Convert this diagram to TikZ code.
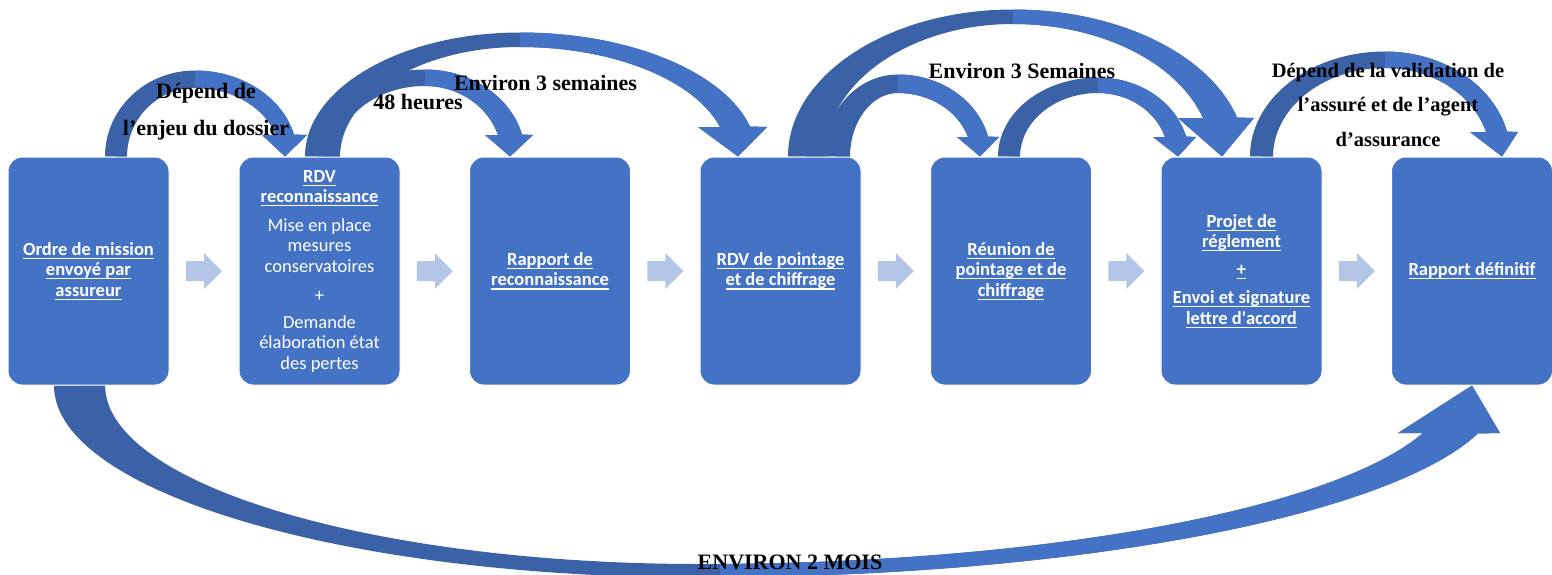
\documentclass[tikz,border=0pt]{standalone}
\usepackage{fontspec}
\setmainfont{Liberation Serif}
\newfontfamily\boxfont{Carlito}
\usetikzlibrary{calc,backgrounds}
\definecolor{boxblue}{HTML}{4472C4}
\definecolor{backblue}{HTML}{3B62A6}
\definecolor{gapblue}{HTML}{B4C6E7}
% bold text with an underline in the current colour
\newcommand{\ubf}[1]{\textbf{\setbox0=\hbox{#1}\rlap{\vrule width\wd0 height -2.6pt depth 3.8pt}\box0}}
% fill a saved band: darker back half, lighter front half right of x = #2
\newcommand{\twotone}[2]{%
  \fill[backblue, use path=#1];
  \begin{scope}
    \clip (#2,10) rectangle (1600,-600);
    \fill[boxblue, use path=#1];
  \end{scope}}

\begin{document}
\begin{tikzpicture}[x=1pt, y=1pt,
  stepbox/.style={draw=white, line width=1pt, fill=boxblue, rounded corners=14pt,
    minimum width=161pt, minimum height=228pt, inner sep=2pt, text=white,
    align=center, font=\boxfont\fontsize{18.5}{20.5}\selectfont},
  lbl/.style={font=\bfseries\fontsize{22}{37}\selectfont, align=center,
    text=black, inner sep=0pt},
  gaparrow/.pic={\fill[gapblue] (-18,-10) -- (0,-10) -- (0,-18) -- (18,0)
    -- (0,18) -- (0,10) -- (-18,10) -- cycle;}]
\useasboundingbox (0,0) rectangle (1552,-574);

% process steps
\node[stepbox] (b1) at (88.5,-271) {\ubf{Ordre de mission}\\ \ubf{envoyé par}\\ \ubf{assureur}};
\node[stepbox] (b2) at (319.5,-271) {\ubf{RDV}\\ \ubf{reconnaissance}\\[8pt]
  Mise en place\\ mesures\\ conservatoires\\[9pt] +\\[6pt] Demande\\ élaboration état\\ des pertes};
\node[stepbox] (b3) at (550,-271) {\ubf{Rapport de}\\ \ubf{reconnaissance}};
\node[stepbox] (b4) at (780.5,-271) {\ubf{RDV de pointage}\\ \ubf{et de chiffrage}};
\node[stepbox] (b5) at (1011,-271) {\ubf{Réunion de}\\ \ubf{pointage et de}\\ \ubf{chiffrage}};
\node[stepbox] (b6) at (1241.5,-271) {\ubf{Projet de}\\ \ubf{réglement}\\[7pt] \ubf{+}\\[8pt]
  \ubf{Envoi et signature}\\ \ubf{lettre d\textquotesingle accord}};
\node[stepbox] (b7) at (1472,-271) {\ubf{Rapport définitif}};

% small arrows between consecutive steps
\foreach \a/\b in {b1/b2,b2/b3,b3/b4,b4/b5,b5/b6,b6/b7}
  \pic at ($(\a.east)!0.5!(\b.west)$) {gaparrow};

% tails and tips of the curved arrows
\coordinate (t1) at ([xshift=16.5pt]b1.north);   \coordinate (h1) at ([xshift=-34.5pt]b2.north);
\coordinate (t2) at ([xshift=-14.5pt]b2.north);  \coordinate (h2) at ([xshift=-42.5pt]b4.north);
\coordinate (t3) at ([xshift=-1.5pt]b2.north);   \coordinate (h3) at ([xshift=-40pt]b3.north);
\coordinate (t4) at ([xshift=7.5pt]b4.north);    \coordinate (h4) at ([xshift=-19.5pt]b6.north);
\coordinate (t5) at ([xshift=43.5pt]b4.north);   \coordinate (h5) at ([xshift=-31pt]b5.north);
\coordinate (t6) at ([xshift=-13pt]b5.north);    \coordinate (h6) at ([xshift=-63.5pt]b6.north);
\coordinate (t7) at ([xshift=8.5pt]b6.north);    \coordinate (h7) at ([xshift=30pt]b7.north);
\coordinate (t8) at ([xshift=-34.5pt]b1.south);  \coordinate (h8) at (b7.south);

\begin{scope}[on background layer]
\clip (0,0) rectangle (1552,-574);
% 48 heures
\path[save path=\bandC] (t3)
  arc[start angle=180, end angle=90, x radius=107, y radius=87]
  arc[start angle=90, end angle={asin(22/87)}, x radius={97/cos(asin(22/87))}, y radius=87]
  -- (533,-135) -- (h3) -- (485,-135) -- (498,-135)
  arc[start angle={asin(22/71)}, end angle=90, x radius={73/cos(asin(22/71))}, y radius=71]
  arc[start angle=90, end angle=180, x radius=89, y radius=71] -- cycle;
\twotone{\bandC}{425}
% depend de l'enjeu du dossier
\path[save path=\bandA] (t1)
  arc[start angle=180, end angle=90, x radius=90, y radius=86]
  arc[start angle=90, end angle={asin(22/86)}, x radius={99/cos(asin(22/86))}, y radius=86]
  -- (307,-135) -- (h1) -- (262,-135) -- (276,-135)
  arc[start angle={asin(22/69)}, end angle=90, x radius={81/cos(asin(22/69))}, y radius=69]
  arc[start angle=90, end angle=180, x radius=68, y radius=69] -- cycle;
\twotone{\bandA}{195}
% environ 3 semaines
\path[save path=\bandB] (t2)
  arc[start angle=180, end angle=90, x radius=215, y radius=124]
  arc[start angle=90, end angle={asin(30/124)}, x radius={230/cos(asin(30/124))}, y radius=124]
  -- (767,-127) -- (h2) -- (698,-127) -- (720,-127)
  arc[start angle={asin(30/110)}, end angle=90, x radius={200/cos(asin(30/110))}, y radius=110]
  arc[start angle=90, end angle=180, x radius=180, y radius=110] -- cycle;
\twotone{\bandB}{520}
% pointage -> reunion
\path[save path=\bandE] (t5)
  arc[start angle=180, end angle=90, x radius=74, y radius=82]
  arc[start angle=90, end angle={asin(20/82)}, x radius={90/cos(asin(20/82))}, y radius=82]
  -- (999,-137) -- (h5) -- (957,-137) -- (968,-137)
  arc[start angle={asin(20/64)}, end angle=90, x radius={70/cos(asin(20/64))}, y radius=64]
  arc[start angle=90, end angle=180, x radius=48, y radius=64] -- cycle;
\twotone{\bandE}{898}
% reunion -> projet
\path[save path=\bandF] (t6)
  arc[start angle=180, end angle=90, x radius=100, y radius=79]
  arc[start angle=90, end angle={asin(20/79)}, x radius={88/cos(asin(20/79))}, y radius=79]
  -- (1196,-137) -- (h6) -- (1153,-137) -- (1165,-137)
  arc[start angle={asin(20/64)}, end angle=90, x radius={67/cos(asin(20/64))}, y radius=64]
  arc[start angle=90, end angle=180, x radius=78, y radius=64] -- cycle;
\twotone{\bandF}{1098}
% environ 3 semaines (pointage -> projet)
\path[save path=\bandD] (t4)
  arc[start angle=180, end angle=90, x radius=225, y radius=147]
  arc[start angle=90, end angle={asin(39/147)}, x radius={224/cos(asin(39/147))}, y radius=147]
  -- (1254,-118) -- (h4) -- (1178,-118) -- (1203,-118)
  arc[start angle={asin(39/133)}, end angle=90, x radius={190/cos(asin(39/133))}, y radius=133]
  arc[start angle=90, end angle=180, x radius=188, y radius=133] -- cycle;
\twotone{\bandD}{1013}
% validation -> rapport definitif
\path[save path=\bandG] (t7)
  arc[start angle=180, end angle=90, x radius=135, y radius=105]
  arc[start angle=90, end angle={asin(25/105)}, x radius={122/cos(asin(25/105))}, y radius=105]
  -- (1518,-132) -- (h7) -- (1470,-132) -- (1486,-132)
  arc[start angle={asin(25/89)}, end angle=90, x radius={101/cos(asin(25/89))}, y radius=89]
  arc[start angle=90, end angle=180, x radius=112, y radius=89] -- cycle;
\twotone{\bandG}{1385}
% environ 2 mois, underneath
\path[save path=\bandH] (t8)
  arc[start angle=180, end angle=270, x radius=646, y radius=192]
  arc[start angle=270, end angle={360-asin(48/192)}, x radius={778/cos(asin(48/192))}, y radius=192]
  -- (1500,-433) -- (h8) -- (1398,-433) -- (1423,-433)
  arc[start angle={360-asin(48/179)}, end angle=270, x radius={723/cos(asin(48/179))}, y radius=179]
  arc[start angle=270, end angle=180, x radius=595, y radius=179] -- cycle;
\twotone{\bandH}{720}
\end{scope}

% durations
\node[lbl] (l1) at (206,-111.5) {Dépend de\\l’enjeu du dossier};
\node[lbl] (l2) at (418,-102) {48 heures};
\node[lbl] (l3) at (545.5,-83) {Environ 3 semaines};
\node[lbl] (l4) at (1022,-71) {Environ 3 Semaines};
\node[lbl, font=\bfseries\fontsize{20.5}{34.5}\selectfont] (l5) at (1388,-104.5)
  {Dépend de la validation de\\l’assuré et de l’agent\\d’assurance};
\node[lbl] (l6) at (790,-562) {ENVIRON 2 MOIS};
\end{tikzpicture}
\end{document}
